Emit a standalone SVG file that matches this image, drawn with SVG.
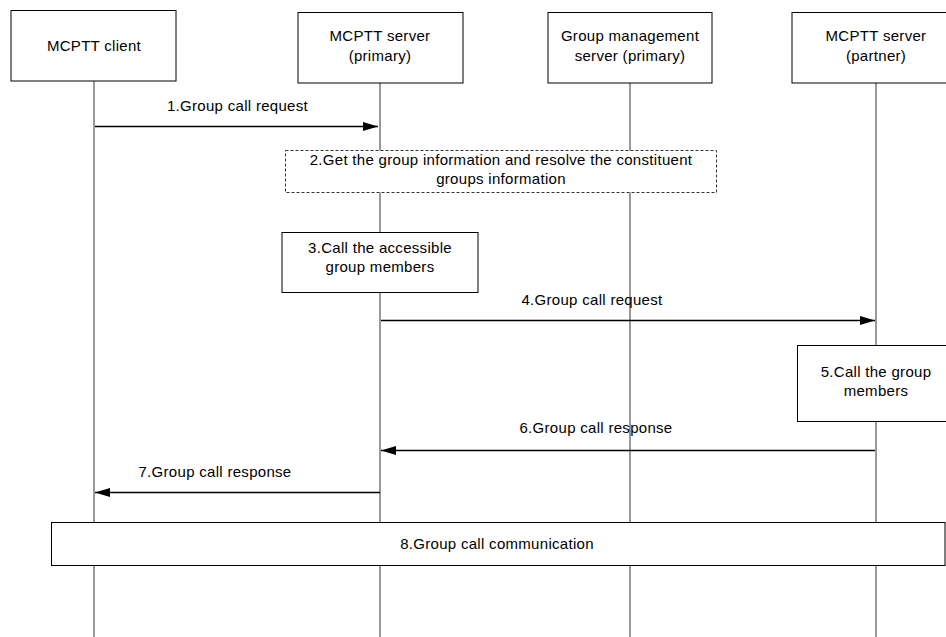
<svg xmlns="http://www.w3.org/2000/svg" width="946" height="637" viewBox="0 0 946 637">
  <style>
    .box { fill: #fff; stroke: #000; stroke-width: 1; }
    .dash { fill: #fff; stroke: #333; stroke-width: 1; stroke-dasharray: 3 2; }
    .life { stroke: #333; stroke-width: 1; fill: none; }
    .msg { stroke: #000; stroke-width: 1.3; fill: none; marker-end: url(#arr); }
    text { font-family: "Liberation Sans", Arial, sans-serif; font-size: 15px; fill: #000; text-anchor: middle; letter-spacing: 0.3px; }
  </style>
  <defs>
    <marker id="arr" markerUnits="userSpaceOnUse" markerWidth="16" markerHeight="10" refX="15" refY="4.5" orient="auto">
      <path d="M0,0 L15,4.5 L0,9 z" fill="#000"/>
    </marker>
  </defs>
  <rect x="0" y="0" width="946" height="637" fill="#fff"/>

  <g id="lifelines">
    <line class="life" x1="94" y1="81" x2="94" y2="637"/>
    <line class="life" x1="380" y1="83" x2="380" y2="637"/>
    <line class="life" x1="630" y1="83" x2="630" y2="637"/>
    <line class="life" x1="876" y1="83" x2="876" y2="637"/>
  </g>

  <g id="mcptt-client">
    <rect class="box" x="11" y="10.5" width="165" height="70.5"/>
    <text x="94" y="51">MCPTT client</text>
  </g>
  <g id="mcptt-server-primary">
    <rect class="box" x="298" y="12.5" width="165" height="70.5"/>
    <text x="380" y="41">MCPTT server</text>
    <text x="380" y="61">(primary)</text>
  </g>
  <g id="group-management-server">
    <rect class="box" x="548" y="12.5" width="164" height="70.5"/>
    <text x="630" y="41">Group management</text>
    <text x="630" y="61">server (primary)</text>
  </g>
  <g id="mcptt-server-partner">
    <rect class="box" x="792" y="12.5" width="170" height="70.5"/>
    <text x="876" y="41">MCPTT server</text>
    <text x="876" y="61">(partner)</text>
  </g>

  <g id="step2">
    <rect class="dash" x="285.5" y="150.5" width="431" height="42"/>
    <text x="501" y="165">2.Get the group information and resolve the constituent</text>
    <text x="501" y="184">groups information</text>
  </g>
  <g id="step3">
    <rect class="box" x="282" y="232.5" width="196" height="60"/>
    <text x="380" y="253">3.Call the accessible</text>
    <text x="380" y="272">group members</text>
  </g>
  <g id="step5">
    <rect class="box" x="797.5" y="345.5" width="160" height="76"/>
    <text x="876" y="377">5.Call the group</text>
    <text x="876" y="396">members</text>
  </g>
  <g id="step8">
    <rect class="box" x="51.5" y="522.5" width="893.5" height="43"/>
    <text x="497" y="549">8.Group call communication</text>
  </g>

  <g id="connectors">
    <line class="msg" x1="95" y1="126.5" x2="378" y2="126.5"/>
    <text x="237.5" y="111">1.Group call request</text>
    <line class="msg" x1="381" y1="320.5" x2="875" y2="320.5"/>
    <text x="592" y="305">4.Group call request</text>
    <line class="msg" x1="875" y1="450.5" x2="381" y2="450.5"/>
    <text x="596" y="433">6.Group call response</text>
    <line class="msg" x1="380" y1="492.5" x2="95" y2="492.5"/>
    <text x="215" y="477">7.Group call response</text>
  </g>
</svg>
